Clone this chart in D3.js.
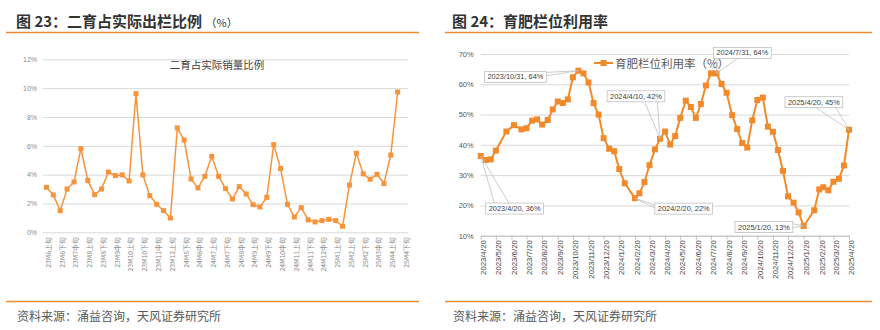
<!DOCTYPE html>
<html><head><meta charset="utf-8">
<script src="https://cdn.jsdelivr.net/npm/d3@7"></script>
<style>body{margin:0;background:#fff;} svg{display:block;}</style>
</head><body>
<svg id="c" width="880" height="330"></svg>
<script>
// ---------- DATA ----------
const leftCategories = ["23M6上旬","23M6中旬","23M6下旬","23M7上旬","23M7中旬","23M7下旬","23M8上旬","23M8中旬","23M8下旬","23M9上旬","23M9中旬","23M9下旬","23M10上旬","23M10中旬","23M10下旬","23M11上旬","23M11中旬","23M11下旬","23M12上旬","24M5中旬","24M5下旬","24M6上旬","24M6中旬","24M6下旬","24M7上旬","24M7中旬","24M7下旬","24M8上旬","24M8中旬","24M8下旬","24M9上旬","24M9中旬","24M9下旬","24M10上旬","24M10中旬","24M10下旬","24M11上旬","24M11中旬","24M11下旬","24M12上旬","24M12中旬","24M12下旬","25M1上旬","25M1中旬","25M2上旬","25M2中旬","25M2下旬","25M3上旬","25M3中旬","25M3下旬","25M4上旬","25M4中旬","25M4下旬"];
const leftValues = [3.12,2.59,1.50,3.00,3.49,5.80,3.60,2.61,3.00,4.18,3.93,3.98,3.56,9.62,3.98,2.54,1.94,1.50,0.99,7.24,6.40,3.70,3.08,3.88,5.27,3.88,3.03,2.31,3.17,2.66,1.92,1.76,2.43,6.08,4.42,1.94,1.06,1.71,0.86,0.72,0.81,0.90,0.81,0.42,3.28,5.48,4.05,3.68,4.02,3.38,5.36,9.73];
const leftYTicks = [0,2,4,6,8,10,12];
const leftSeriesName = "二育占实际销量比例";

const rightDates = ["2023-04-20","2023-04-30","2023-05-10","2023-05-20","2023-06-10","2023-06-25","2023-07-10","2023-07-20","2023-07-31","2023-08-10","2023-08-20","2023-08-31","2023-09-10","2023-09-20","2023-09-30","2023-10-10","2023-10-20","2023-10-31","2023-11-10","2023-11-20","2023-11-30","2023-12-10","2023-12-20","2023-12-31","2024-01-10","2024-01-20","2024-01-31","2024-02-20","2024-02-29","2024-03-10","2024-03-20","2024-03-31","2024-04-10","2024-04-20","2024-04-30","2024-05-10","2024-05-20","2024-05-31","2024-06-10","2024-06-20","2024-06-30","2024-07-10","2024-07-20","2024-07-31","2024-08-10","2024-08-20","2024-08-31","2024-09-10","2024-09-20","2024-09-30","2024-10-10","2024-10-20","2024-10-31","2024-11-10","2024-11-20","2024-11-30","2024-12-10","2024-12-20","2024-12-31","2025-01-10","2025-01-20","2025-02-10","2025-02-20","2025-02-28","2025-03-10","2025-03-20","2025-03-31","2025-04-10","2025-04-20"];
const rightValues = [36.3,35.0,35.2,38.1,44.4,46.5,45.1,45.5,48.0,48.4,46.7,48.2,51.7,54.3,53.8,55.0,62.3,64.5,63.6,60.6,53.8,50.0,42.2,38.7,37.9,32.0,27.3,22.4,24.0,27.7,33.3,38.5,42.0,44.4,40.1,42.9,48.9,54.6,52.5,48.9,53.5,59.6,63.6,63.6,60.1,57.2,49.8,45.2,40.6,39.1,48.1,54.8,55.6,46.0,44.3,38.3,31.4,23.0,20.9,17.7,13.2,18.4,25.3,26.0,25.0,27.8,28.8,33.2,45.0];
const rightYTicks = [10,20,30,40,50,60,70];
const rightTickDates = ["2023-04-20","2023-05-20","2023-06-20","2023-07-20","2023-08-20","2023-09-20","2023-10-20","2023-11-20","2023-12-20","2024-01-20","2024-02-20","2024-03-20","2024-04-20","2024-05-20","2024-06-20","2024-07-20","2024-08-20","2024-09-20","2024-10-20","2024-11-20","2024-12-20","2025-01-20","2025-02-20","2025-03-20","2025-04-20"];
const rightSeriesName = "育肥栏位利用率（%）";
const annDates = ["2023-04-20","2023-10-31","2024-02-20","2024-04-10","2024-07-31","2025-01-20","2025-04-20"];
const annLabels = ["2023/4/20, 36%","2023/10/31, 64%","2024/2/20, 22%","2024/4/10, 42%","2024/7/31, 64%","2025/1/20, 13%","2025/4/20, 45%"];

const leftTitle = "图 23：二育占实际出栏比例 ";
const rightTitle = "图 24：育肥栏位利用率";
const sourceText = "资料来源：涌益咨询，天风证券研究所";

// ---------- DRAW ----------
const svg = d3.select("#c");
const CJK = "'Noto Sans CJK SC','Noto Sans',sans-serif";
const LAT = "'Liberation Sans',Arial,sans-serif";
const RULE = "#ef8a2f";
const LINE_L = "#f7933a";
const LINE_R = "#f28a2c";

svg.append("rect").attr("width",880).attr("height",330).attr("fill","#fff");

// headers / footers
function frame(x0, x1, tx, title, suffix) {
  const t = svg.append("text").attr("x", tx).attr("y", 26.5)
    .attr("font-family", CJK).attr("font-size", 15).attr("font-weight", "bold").attr("fill", "#333")
    .text(title);
  if (suffix) t.append("tspan").attr("font-size", 11).attr("font-weight", "normal").text(suffix);
  svg.append("line").attr("x1", x0).attr("x2", x1).attr("y1", 32.5).attr("y2", 32.5)
    .attr("stroke", RULE).attr("stroke-width", 1.5);
  svg.append("line").attr("x1", x0).attr("x2", x1).attr("y1", 301.5).attr("y2", 301.5)
    .attr("stroke", RULE).attr("stroke-width", 1.5);
  svg.append("text").attr("x", tx + 1).attr("y", 321).attr("font-family", CJK)
    .attr("font-size", 12).attr("fill", "#595959").text(sourceText);
}
frame(6, 419, 16, leftTitle, "（%）");
frame(445, 872, 452, rightTitle, null);

// ---------- LEFT CHART ----------
const xL = d3.scaleBand().domain(leftCategories).range([43, 408]);
const yL = d3.scaleLinear().domain([0, 12]).range([232.3, 59.3]);
const cx = c => xL(c) + xL.bandwidth() / 2;

const gyL = svg.append("g").attr("transform", "translate(43,0)")
  .call(d3.axisLeft(yL).tickValues(leftYTicks).tickSize(-365).tickPadding(6).tickFormat(d => d + "%"));
gyL.select(".domain").remove();
gyL.selectAll(".tick line").attr("stroke", "#d9d9d9");
gyL.selectAll(".tick text").attr("font-family", LAT).attr("font-size", 7).attr("fill", "#8c8c8c");

const gxL = svg.append("g").attr("transform", "translate(0,232.3)")
  .call(d3.axisBottom(xL).tickValues(leftCategories.filter((c, i) => i % 2 === 0)).tickSize(0));
gxL.select(".domain").remove();
gxL.selectAll(".tick text")
  .attr("transform", "rotate(-90)").attr("text-anchor", "end")
  .attr("x", -5).attr("y", 2).attr("dy", "0.35em")
  .attr("font-family", CJK).attr("font-size", 6.8).attr("fill", "#8c8c8c");

const leftData = leftValues.map((v, i) => ({ c: leftCategories[i], v }));
svg.append("path").datum(leftData)
  .attr("d", d3.line().x(d => cx(d.c)).y(d => yL(d.v)))
  .attr("fill", "none").attr("stroke", LINE_L).attr("stroke-width", 1.5);
svg.append("g").selectAll("rect").data(leftData).join("rect")
  .attr("x", d => cx(d.c) - 2.5).attr("y", d => yL(d.v) - 2.5)
  .attr("width", 5).attr("height", 5).attr("fill", LINE_L);

svg.append("text").attr("x", 217).attr("y", 64).attr("text-anchor", "middle")
  .attr("dominant-baseline", "central").attr("font-family", CJK).attr("font-size", 10.5)
  .attr("fill", "#404040").text(leftSeriesName);

// ---------- RIGHT CHART ----------
const parse = d3.timeParse("%Y-%m-%d");
const fmt = d3.timeFormat("%Y/%-m/%-d");
const xR = d3.scaleTime().domain([parse("2023-04-20"), parse("2025-04-20")]).range([480.7, 849]);
const yR = d3.scaleLinear().domain([10, 70]).range([235.7, 54]);

const gyR = svg.append("g").attr("transform", "translate(480.7,0)")
  .call(d3.axisLeft(yR).tickValues(rightYTicks).tickSize(-(849 - 480.7)).tickPadding(7).tickFormat(d => d + "%"));
gyR.select(".domain").remove();
gyR.selectAll(".tick line").attr("stroke", "#d9d9d9");
gyR.selectAll(".tick text").attr("font-family", LAT).attr("font-size", 7.5).attr("fill", "#595959");

const gxR = svg.append("g").attr("transform", "translate(0,235.7)")
  .call(d3.axisBottom(xR).tickValues(rightTickDates.map(parse)).tickSize(4).tickSizeOuter(0).tickFormat(fmt));
gxR.select(".domain").attr("stroke", "#bfbfbf");
gxR.selectAll(".tick line").attr("stroke", "#bfbfbf");
gxR.selectAll(".tick text")
  .attr("transform", "rotate(-90)").attr("text-anchor", "end")
  .attr("x", -4.5).attr("y", 2).attr("dy", "0.35em")
  .attr("font-family", LAT).attr("font-size", 7.8).attr("fill", "#404040");

const rightData = rightValues.map((v, i) => ({ d: parse(rightDates[i]), v }));
svg.append("path").datum(rightData)
  .attr("d", d3.line().x(d => xR(d.d)).y(d => yR(d.v)))
  .attr("fill", "none").attr("stroke", LINE_R).attr("stroke-width", 2);
svg.append("g").selectAll("rect").data(rightData).join("rect")
  .attr("x", d => xR(d.d) - 3).attr("y", d => yR(d.v) - 3)
  .attr("width", 6).attr("height", 6).attr("fill", LINE_R);

// legend
const lg = svg.append("g");
lg.append("line").attr("x1", 594).attr("x2", 613).attr("y1", 63).attr("y2", 63)
  .attr("stroke", LINE_R).attr("stroke-width", 2);
lg.append("rect").attr("x", 600.5).attr("y", 60).attr("width", 6).attr("height", 6).attr("fill", LINE_R);
lg.append("text").attr("x", 615).attr("y", 63).attr("dominant-baseline", "central")
  .attr("font-family", CJK).attr("font-size", 11.5).attr("fill", "#595959").text(rightSeriesName);

// annotations (layout: box offset from point, leader edge + fractions)
const annLayout = [
  { dx: 5, dy: 47, edge: "top", f: [0.15, 0.4] },
  { dx: -94, dy: 0.7, edge: "right", f: [0.1, 0.4] },
  { dx: 20, dy: 5, edge: "left", f: [0.15, 0.45] },
  { dx: -53, dy: -48, edge: "bottom", f: [0.65, 0.87] },
  { dx: -3, dy: -26, edge: "bottom", f: [0.06, 0.42] },
  { dx: -68.6, dy: -4.5, edge: "right", f: [0.2, 0.55] },
  { dx: -64, dy: -33, edge: "bottom", f: [0.54, 0.88] }
];
const ag = svg.append("g");
annDates.forEach((ds, i) => {
  const idx = rightDates.indexOf(ds);
  const px = xR(parse(ds)), py = yR(rightValues[idx]);
  const L = annLayout[i];
  const bx = px + L.dx, by = py + L.dy, bh = 11;
  const g = ag.append("g");
  const leader = g.append("path").attr("fill", "none").attr("stroke", "#bfbfbf").attr("stroke-width", 0.8);
  const rect = g.append("rect").attr("x", bx).attr("y", by).attr("height", bh)
    .attr("fill", "#fff").attr("stroke", "#bfbfbf").attr("stroke-width", 0.8);
  const t = g.append("text").attr("x", bx + 3).attr("y", by + bh / 2).attr("dominant-baseline", "central")
    .attr("font-family", LAT).attr("font-size", 7.4).attr("fill", "#404040").text(annLabels[i]);
  const bw = t.node().getComputedTextLength() + 6;
  rect.attr("width", bw);
  const pts = L.f.map(f => {
    if (L.edge === "top") return [bx + f * bw, by];
    if (L.edge === "bottom") return [bx + f * bw, by + bh];
    if (L.edge === "left") return [bx, by + f * bh];
    return [bx + bw, by + f * bh];
  });
  leader.attr("d", `M${pts[0][0]},${pts[0][1]}L${px},${py}L${pts[1][0]},${pts[1][1]}`);
});
</script>
</body></html>
